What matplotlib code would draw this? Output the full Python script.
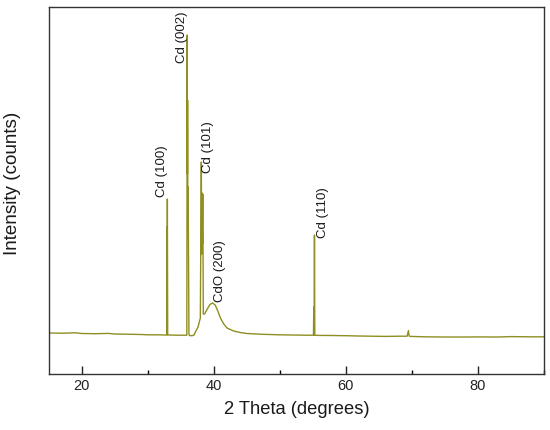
import numpy as np
import matplotlib
matplotlib.use('Agg')
import matplotlib.pyplot as plt
from matplotlib.ticker import MultipleLocator

plt.rcParams['font.family'] = ['Liberation Sans', 'DejaVu Sans']

# XRD pattern (2 theta in degrees, intensity in arbitrary counts)
two_theta = [15.0, 17.0, 19.0, 20.0, 22.0, 24.0, 25.0, 27.0, 29.0, 30.0, 31.5, 32.7,
             32.85, 32.9, 32.92, 32.95, 33.0, 33.2, 34.5, 35.9,
             35.96, 35.99, 36.02, 36.06, 36.1, 36.14, 36.22, 36.3, 36.7, 37.0,
             37.2, 37.6, 37.95, 38.0, 38.1, 38.15, 38.2, 38.27, 38.32, 38.4, 38.6,
             39.0, 39.4, 39.8, 40.2, 40.6, 41.0, 41.5, 42.0, 43.0, 44.0, 45.0,
             47.0, 50.0, 52.0, 54.0, 55.1, 55.15, 55.2, 55.25, 55.3, 56.0,
             58.0, 60.0, 62.0, 64.0, 66.0, 68.0, 69.3, 69.5, 69.6, 69.8, 72.0,
             75.0, 78.0, 80.0, 83.0, 85.0, 88.0, 90.0]
intensity = [410, 408, 412, 405, 403, 406, 400, 398, 395, 392, 392, 390,
             392, 1470, 392, 1750, 392, 390, 388, 388,
             3390, 2000, 2740, 1500, 1870, 1400, 400, 385, 383, 390,
             420, 470, 560, 1110, 2120, 1200, 1810, 1300, 1800, 600, 600,
             650, 695, 710, 690, 630, 560, 500, 460, 430, 415, 405,
             398, 392, 390, 388, 388, 670, 390, 1390, 388, 386,
             385, 383, 380, 378, 376, 378, 378, 435, 380, 376, 372,
             370, 370, 371, 370, 374, 372, 372]

peak_labels = ['Cd (100)', 'Cd (002)', 'Cd (101)', 'CdO (200)', 'Cd (110)']
label_x = [32.1, 35.2, 39.1, 40.9, 56.5]
label_y = [1770, 3110, 2010, 720, 1360]

fig = plt.figure(figsize=(5.5, 4.3), dpi=100)
ax = fig.add_axes([0.089, 0.1302, 0.8995, 0.8535])

ax.plot(two_theta, intensity, color='#8e8e22', lw=1.0)

for lab, lx, ly in zip(peak_labels, label_x, label_y):
    ax.text(lx, ly, lab, rotation=90, ha='center', va='bottom', fontsize=9.5, color='#1a1a1a')

ax.set_xlim(15, 90)
ax.set_ylim(0, 3670)
ax.xaxis.set_major_locator(MultipleLocator(20))
ax.xaxis.set_minor_locator(MultipleLocator(10))
ax.tick_params(axis='x', which='major', direction='in', length=6, width=1, labelsize=10.5, colors='#222222')
ax.tick_params(axis='x', which='minor', direction='in', length=3, width=1)
ax.set_yticks([])
for s in ax.spines.values():
    s.set_color('#333333')
    s.set_linewidth(1.0)

ax.set_xlabel('2 Theta (degrees)', fontsize=13.2, labelpad=6, color='#1a1a1a')
ax.set_ylabel('Intensity (counts)', fontsize=13.6, color='#1a1a1a')
ax.yaxis.set_label_coords(-0.057, 0.52)

fig.savefig('out.png', dpi=100)
